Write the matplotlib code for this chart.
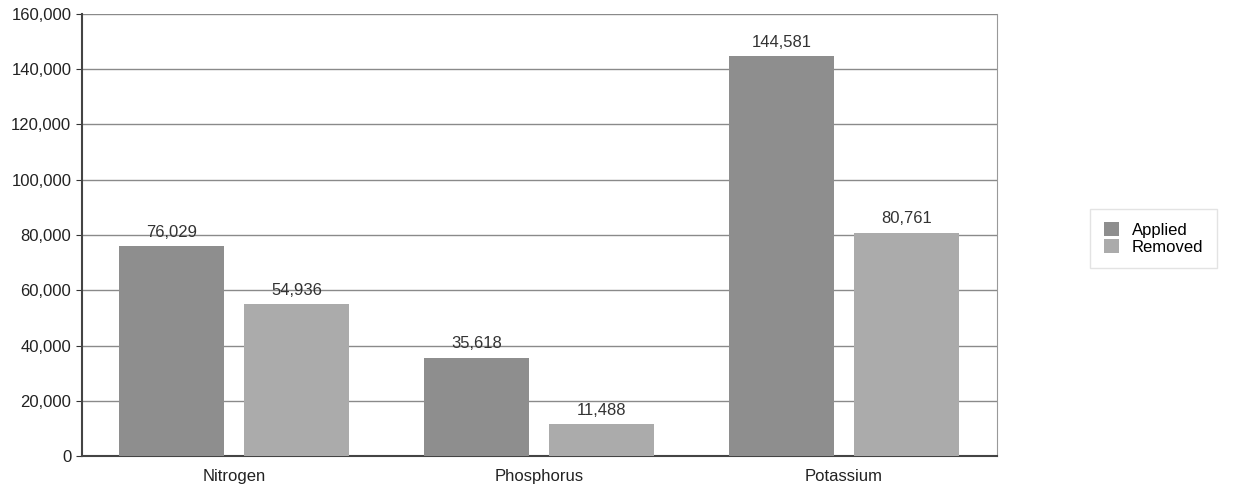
import numpy as np
import matplotlib.pyplot as plt
from matplotlib.ticker import FuncFormatter

plt.rcParams['font.family'] = ['Liberation Sans', 'DejaVu Sans']

nutrients = ["Nitrogen", "Phosphorus", "Potassium"]
applied = [76029, 35618, 144581]
removed = [54936, 11488, 80761]

fig = plt.figure(figsize=(12.38, 4.92), dpi=100)
ax = fig.add_axes([0.066, 0.073, 0.739, 0.899])

x = np.arange(len(nutrients))
w = 0.344
b1 = ax.bar(x - 0.205, applied, w, color="#8e8e8e", label="Applied", zorder=3)
b2 = ax.bar(x + 0.205, removed, w, color="#ababab", label="Removed", zorder=3)

for bars, vals in [(b1, applied), (b2, removed)]:
    for r, v in zip(bars, vals):
        ax.text(r.get_x() + r.get_width() / 2, v + 2300, f"{v:,}",
                ha="center", va="bottom", fontsize=12, color="#333333", zorder=4)

ax.set_xlim(-0.5, 2.5)
ax.set_ylim(0, 160000)
ax.set_yticks(np.arange(0, 160001, 20000))
ax.yaxis.set_major_formatter(FuncFormatter(lambda v, p: f"{int(v):,}"))
ax.set_xticks(x)
ax.set_xticklabels(nutrients)
ax.tick_params(axis="y", length=4, color="#333333", labelsize=12, labelcolor="#222222")
ax.tick_params(axis="x", length=0, labelsize=12, labelcolor="#222222", pad=9)

ax.grid(axis="y", color="#8a8a8a", linewidth=1.0, zorder=0)
ax.spines["left"].set_color("#444444")
ax.spines["left"].set_linewidth(1.5)
ax.spines["bottom"].set_color("#444444")
ax.spines["bottom"].set_linewidth(1.5)
ax.spines["right"].set_color("#999999")
ax.spines["top"].set_visible(False)

leg = fig.legend(handles=[b1, b2], loc="center left", bbox_to_anchor=(0.874, 0.515),
                 frameon=True, fontsize=12, handlelength=0.9, handleheight=0.9,
                 handletextpad=0.8, borderpad=0.8, labelspacing=0.1, fancybox=False)
leg.get_frame().set_edgecolor("#dddddd")
leg.get_frame().set_linewidth(1.0)

fig.savefig("out.png", dpi=100)
